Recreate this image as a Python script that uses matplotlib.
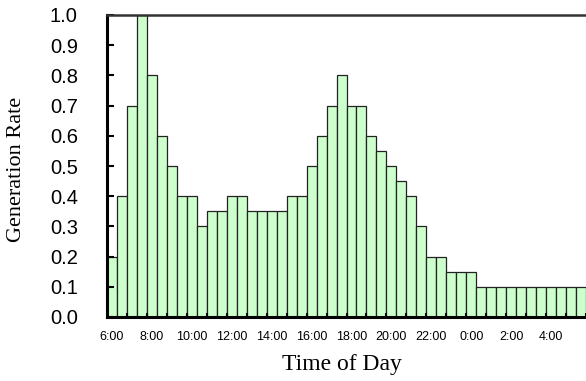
import matplotlib
matplotlib.use('Agg')
import matplotlib.pyplot as plt
import numpy as np

# half-hour bins from 6:00 through 5:30 the next morning
rates = [0.2, 0.4, 0.7, 1.0, 0.8, 0.6, 0.5, 0.4, 0.4, 0.3, 0.35, 0.35,
         0.4, 0.4, 0.35, 0.35, 0.35, 0.35, 0.4, 0.4, 0.5, 0.6, 0.7, 0.8,
         0.7, 0.7, 0.6, 0.55, 0.5, 0.45, 0.4, 0.3, 0.2, 0.2, 0.15, 0.15,
         0.15, 0.1, 0.1, 0.1, 0.1, 0.1, 0.1, 0.1, 0.1, 0.1, 0.1, 0.1]
hour_labels = ['6:00', '8:00', '10:00', '12:00', '14:00', '16:00',
               '18:00', '20:00', '22:00', '0:00', '2:00', '4:00']

fig = plt.figure(figsize=(5.86, 3.81), dpi=100)
ax = fig.add_axes([107/586, 64/381, 479/586, 302/381])

idx = np.arange(len(rates))
ax.bar(idx, rates, width=1.0, color='#ccffcc', edgecolor='#222222', linewidth=0.9)

ax.set_xlim(-0.5, len(rates) - 0.5)
ax.set_ylim(0, 1.0)

# labels every 2 hours (4 bins), tick marks every hour on bin edges
ax.set_xticks(idx[::4])
ax.set_xticklabels(hour_labels, fontsize=9, family='Liberation Sans')
ax.set_xticks(np.arange(1.5, len(rates), 2), minor=True)
ax.tick_params(axis='x', which='major', length=0, pad=10)
ax.tick_params(axis='x', which='minor', direction='in', length=3, width=1.5)

ax.set_yticks(np.arange(0, 1.01, 0.1))
ax.set_yticklabels(['%.1f' % v for v in np.arange(0, 1.01, 0.1)],
                   fontsize=14.5, family='Liberation Sans')
ax.tick_params(axis='y', direction='in', length=5, width=1.5, pad=21)

for s in ['left', 'bottom']:
    ax.spines[s].set_linewidth(2.2)
ax.spines['top'].set_linewidth(1.8)
ax.spines['top'].set_color('#333333')
ax.spines['right'].set_visible(False)

ax.set_xlabel('Time of Day', fontsize=17, family='Liberation Serif')
ax.xaxis.set_label_coords(0.49, -0.122)
ax.set_ylabel('Generation Rate', fontsize=16, family='Liberation Serif')
ax.yaxis.set_label_coords(-0.169, 0.487)

fig.savefig('out.png', dpi=100)
